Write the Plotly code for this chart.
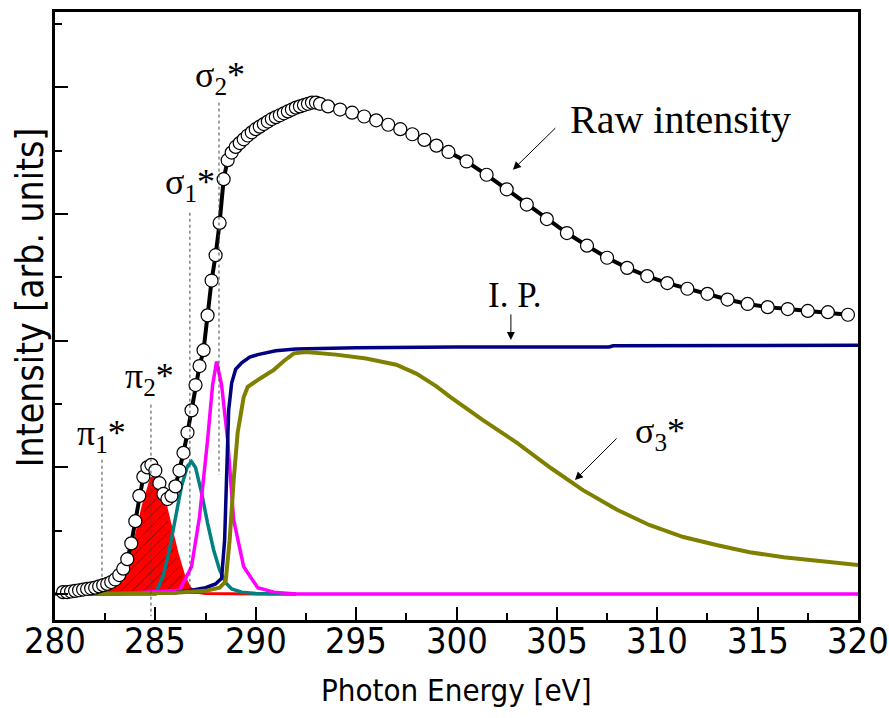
import plotly.graph_objects as go

# ---------------- data ----------------
raw_e = [280.4, 280.6, 280.8, 281.0, 281.2, 281.4, 281.6, 281.8, 282.0, 282.2, 282.4, 282.6, 282.8,
         283.0, 283.2, 283.4, 283.6, 283.8, 284.0, 284.2, 284.4, 284.6, 284.8, 285.0, 285.2, 285.4,
         285.6, 285.8, 286.0, 286.2, 286.4, 286.6, 286.8, 287.0, 287.2, 287.4, 287.6, 287.8, 288.0,
         288.2, 288.4, 288.6, 288.8, 289.0, 289.2, 289.4, 289.6, 289.8, 290.0, 290.2, 290.4, 290.6,
         290.8, 291.0, 291.2, 291.4, 291.6, 291.8, 292.0, 292.2, 292.4, 292.6, 292.8, 293.0, 293.2,
         293.6, 294.2, 294.8, 295.4, 296.0, 296.6, 297.2,
         297.8, 298.4, 299.0, 299.6, 300.5, 301.5, 302.5, 303.5, 304.5, 305.5, 306.5, 307.5, 308.5,
         309.5, 310.5, 311.5, 312.5, 313.5, 314.5, 315.5, 316.5, 317.5, 318.5, 319.5]
raw_i = [0.03, 0.03, 0.04, 0.05, 0.06, 0.07, 0.08, 0.09, 0.10, 0.12, 0.14, 0.16, 0.19,
         0.23, 0.30, 0.40, 0.55, 0.80, 1.15, 1.55, 1.85, 2.00, 2.04, 1.95, 1.75, 1.58,
         1.50, 1.55, 1.70, 1.95, 2.23, 2.55, 2.90, 3.30, 3.60, 3.85, 4.40, 4.95, 5.35,
         5.86, 6.55, 6.85, 6.97, 7.06, 7.12, 7.18, 7.24, 7.29, 7.34, 7.38, 7.42, 7.46,
         7.50, 7.53, 7.56, 7.59, 7.62, 7.65, 7.68, 7.70, 7.72, 7.74, 7.76, 7.76, 7.74,
         7.70, 7.65, 7.60, 7.54, 7.48, 7.41, 7.34,
         7.26, 7.17, 7.08, 6.98, 6.83, 6.62, 6.39, 6.15, 5.92, 5.70, 5.50, 5.31, 5.15,
         5.02, 4.91, 4.82, 4.74, 4.65, 4.58, 4.53, 4.50, 4.47, 4.45, 4.41]

pi_e = [280.0, 282.0, 282.5, 283.0, 283.5, 284.0, 284.4, 284.8, 285.0, 285.2, 285.5, 285.8,
        286.1, 286.4, 286.7, 287.0, 287.5, 290.0, 292.0]
pi_i = [0.0, 0.02, 0.05, 0.12, 0.35, 0.85, 1.40, 1.82, 1.85, 1.75, 1.40, 1.00,
        0.62, 0.30, 0.10, 0.03, 0.01, 0.0, 0.0]

s1_e = [280.0, 285.0, 285.4, 285.7, 286.0, 286.3, 286.6, 286.8, 287.0, 287.3, 287.6, 287.9,
        288.2, 288.5, 288.8, 289.3, 290.0, 292.0]
s1_i = [0.0, 0.0, 0.30, 0.70, 1.20, 1.70, 2.02, 2.09, 2.00, 1.60, 1.12, 0.70,
        0.38, 0.18, 0.08, 0.03, 0.01, 0.0]

s2_e = [283.0, 286.2, 286.8, 287.2, 287.6, 287.85, 288.05, 288.3, 288.6, 288.9, 289.4, 290.1,
        290.9, 292.0, 320.0]
s2_i = [0.0, 0.06, 0.43, 1.22, 2.43, 3.30, 3.67, 3.30, 2.43, 1.17, 0.43, 0.10,
        0.03, 0.0, 0.0]

ip_e = [280.0, 286.0, 286.8, 287.5, 288.0, 288.3, 288.45, 288.55, 288.65, 288.8, 289.0, 289.3,
        289.7, 290.1, 291.0, 292.0, 295.0, 300.0, 307.6, 307.8, 320.0]
ip_i = [0.0, 0.02, 0.06, 0.10, 0.16, 0.25, 0.85, 1.90, 2.90, 3.33, 3.55, 3.65,
        3.74, 3.78, 3.84, 3.87, 3.89, 3.90, 3.90, 3.92, 3.93]

s3_e = [280.0, 286.0, 287.5, 288.2, 288.5, 288.7, 288.9, 289.1, 289.4, 289.6, 290.2, 290.9,
        291.4, 291.9, 292.5, 294.0, 295.5, 297.0, 298.0, 299.0, 299.7, 301.3, 303.0, 304.7,
        306.3, 308.0, 309.6, 311.3, 313.0, 314.6, 316.3, 318.0, 320.0]
s3_i = [0.0, 0.02, 0.05, 0.10, 0.20, 0.85, 1.80, 2.55, 3.11, 3.27, 3.40, 3.54,
        3.68, 3.80, 3.82, 3.78, 3.72, 3.62, 3.48, 3.28, 3.11, 2.75, 2.39, 1.99,
        1.64, 1.33, 1.09, 0.90, 0.77, 0.66, 0.58, 0.52, 0.46]

x_ticks = [280, 285, 290, 295, 300, 305, 310, 315, 320]

SANS = "DejaVu Sans Condensed, sans-serif"
SERIF = "Liberation Serif, Times New Roman, serif"

fig = go.Figure()
fig.add_trace(go.Scatter(x=pi_e, y=pi_i, mode="lines", line=dict(color="#ff0000", width=3),
                         fill="tozeroy", fillcolor="#ff0000",
                         fillpattern=dict(shape="/", fgcolor="#000000", bgcolor="#ff0000",
                                          size=8, solidity=0.1)))
fig.add_trace(go.Scatter(x=s1_e, y=s1_i, mode="lines", line=dict(color="#008080", width=3.5)))
fig.add_trace(go.Scatter(x=s2_e, y=s2_i, mode="lines", line=dict(color="#ff00ff", width=3.5)))
fig.add_trace(go.Scatter(x=ip_e, y=ip_i, mode="lines", line=dict(color="#000080", width=3.5)))
fig.add_trace(go.Scatter(x=s3_e, y=s3_i, mode="lines", line=dict(color="#808000", width=4)))
fig.add_trace(go.Scatter(x=raw_e, y=raw_i, mode="lines+markers",
                         line=dict(color="#000000", width=4),
                         marker=dict(symbol="circle", size=13, color="#ffffff",
                                     line=dict(color="#000000", width=1.2))))

# dashed guide lines (x, y0, y1)
guides = [(288.17, 7.76, 1.88), (286.72, 6.02, 0.06), (284.78, 2.99, -0.35), (282.34, 2.12, 0.27)]
for gx, gy0, gy1 in guides:
    fig.add_shape(type="line", xref="x", yref="y", x0=gx, x1=gx, y0=gy0, y1=gy1,
                  line=dict(color="#444444", width=1, dash="3px,3px"))

labels = [("σ<sub>2</sub>*", 288.22, 8.15), ("σ<sub>1</sub>*", 286.72, 6.46),
          ("π<sub>2</sub>*", 284.73, 3.41), ("π<sub>1</sub>*", 282.34, 2.51),
          ("σ<sub>3</sub>*", 310.14, 2.54)]
for t, lx, ly in labels:
    fig.add_annotation(x=lx, y=ly, xref="x", yref="y", text=t, showarrow=False,
                       font=dict(family=SERIF, size=36, color="#000000"))

fig.add_annotation(x=311.18, y=7.49, xref="x", yref="y", text="Raw intensity", showarrow=False,
                   font=dict(family=SERIF, size=40, color="#000000"))
fig.add_annotation(x=302.9, y=4.71, xref="x", yref="y", text="I. P.", showarrow=False,
                   font=dict(family=SERIF, size=35, color="#000000"))

arrows = [(302.81, 6.70, 305.0, 7.38), (302.71, 4.01, 302.71, 4.44), (305.9, 1.80, 308.05, 2.48)]
for hx, hy, tx, ty in arrows:
    fig.add_annotation(x=hx, y=hy, ax=tx, ay=ty, xref="x", yref="y", axref="x", ayref="y",
                       text="", showarrow=True, arrowhead=2, arrowsize=1.6, arrowwidth=1,
                       arrowcolor="#000000")

# x tick labels
for v in x_ticks:
    fig.add_annotation(x=v, y=-0.033, xref="x", yref="paper", text=str(v), showarrow=False,
                       xanchor="center", yanchor="middle",
                       font=dict(family=SANS, size=36, color="#000000"))

fig.add_annotation(x=0.5, y=-0.115, xref="paper", yref="paper", text="Photon Energy [eV]",
                   showarrow=False, xanchor="center", yanchor="middle",
                   font=dict(family=SANS, size=31, color="#000000"))
fig.add_annotation(x=-0.031, y=0.531, xref="paper", yref="paper", text="Intensity [arb. units]",
                   showarrow=False, textangle=-90, xanchor="center", yanchor="middle",
                   font=dict(family=SANS, size=37, color="#000000"))

fig.update_layout(
    width=889, height=718, margin=dict(l=55, r=31, t=12, b=98, autoexpand=False),
    paper_bgcolor="#ffffff", plot_bgcolor="#ffffff", showlegend=False,
    xaxis=dict(range=[280, 320], tickmode="array", tickvals=x_ticks, showticklabels=False,
               automargin=False, ticks="inside", ticklen=13, tickwidth=2,
               tickcolor="#000000", showline=True, linewidth=3, linecolor="#000000",
               mirror=True, showgrid=False, zeroline=False,
               minor=dict(dtick=2.5, tick0=280, ticks="inside", ticklen=7, tickwidth=2,
                          tickcolor="#000000", showgrid=False)),
    yaxis=dict(range=[-0.41, 9.19], tick0=0, dtick=2, ticks="inside", ticklen=13, tickwidth=2,
               automargin=False,
               tickcolor="#000000", showticklabels=False, showline=True, linewidth=3,
               linecolor="#000000", mirror=True, showgrid=False, zeroline=False,
               minor=dict(dtick=1, tick0=0, ticks="inside", ticklen=7, tickwidth=2,
                          tickcolor="#000000", showgrid=False)),
)

fig.write_html("out.html")
